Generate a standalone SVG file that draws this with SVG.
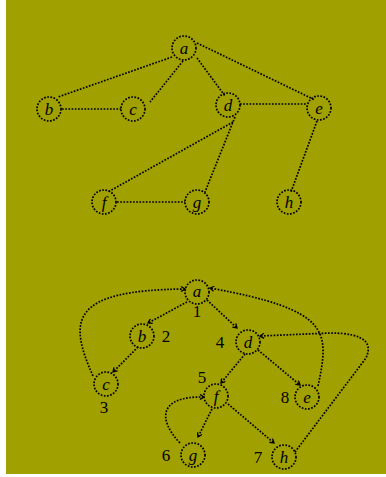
<svg xmlns="http://www.w3.org/2000/svg" width="386" height="477" viewBox="0 0 386 477">
<style>
.n{fill:none;stroke:#000;stroke-width:1.7;stroke-dasharray:1.7 1.5}
.e{fill:none;stroke:#000;stroke-width:1.7;stroke-dasharray:1.7 1.5}
.l{font-family:"Liberation Serif",serif;font-style:italic;font-size:17px;fill:#000;text-anchor:middle}
.k{font-family:"Liberation Serif",serif;font-size:17px;fill:#000;text-anchor:middle}
</style>
<defs>
<marker id="ar" viewBox="0 0 6 6" refX="5" refY="3" markerWidth="6" markerHeight="6" markerUnits="userSpaceOnUse" orient="auto">
<path d="M1,0.5 L5,3 L1,5.5" fill="none" stroke="#000" stroke-width="1.3"/>
</marker>
</defs>
<rect x="0" y="0" width="386" height="477" fill="#fff"/>
<rect x="6" y="0" width="380" height="474" fill="#a0a000"/>
<g id="connectors">
<path class="e" d="M172 57 L58 97"/>
<path class="e" d="M183 61 L150 102"/>
<path class="e" d="M197 58 L225 96"/>
<path class="e" d="M197 43 L315 100"/>
<path class="e" d="M62 109 L121 109"/>
<path class="e" d="M240 104 L307 104"/>
<path class="e" d="M233 122 L108 192"/>
<path class="e" d="M235 117 L205 192"/>
<path class="e" d="M317 121 L291 192"/>
<path class="e" d="M117 202 L185 202"/>
<path class="e" d="M187 302 L148 323" marker-end="url(#ar)"/>
<path class="e" d="M207 300 L237 328" marker-end="url(#ar)"/>
<path class="e" d="M138 347 L113 372" marker-end="url(#ar)"/>
<path class="e" d="M245 354 L221 383" marker-end="url(#ar)"/>
<path class="e" d="M258 350 L300 385" marker-end="url(#ar)"/>
<path class="e" d="M212 409 L198 437" marker-end="url(#ar)"/>
<path class="e" d="M228 404 L274 443" marker-end="url(#ar)"/>
<path class="e" d="M93 376 C68 320 70 290 185 289" marker-end="url(#ar)"/>
<path class="e" d="M318 386 C330 330 330 310 210 288" marker-end="url(#ar)"/>
<path class="e" d="M295 452 L366 358 C372 345 368 333 330 333 L260 336" marker-end="url(#ar)"/>
<path class="e" d="M180 443 C158 420 158 396 204 397" marker-end="url(#ar)"/>
</g>
<g id="top-a"><circle class="n" cx="184" cy="48" r="12"/><text class="l" x="184" y="54">a</text></g>
<g id="top-b"><circle class="n" cx="49" cy="109" r="12"/><text class="l" x="49" y="115">b</text></g>
<g id="top-c"><circle class="n" cx="133" cy="109" r="12"/><text class="l" x="133" y="115">c</text></g>
<g id="top-d"><circle class="n" cx="228" cy="105" r="12"/><text class="l" x="228" y="111">d</text></g>
<g id="top-e"><circle class="n" cx="319" cy="108" r="12"/><text class="l" x="319" y="114">e</text></g>
<g id="top-f"><circle class="n" cx="104" cy="202" r="12"/><text class="l" x="104" y="208">f</text></g>
<g id="top-g"><circle class="n" cx="197" cy="202" r="12"/><text class="l" x="197" y="208">g</text></g>
<g id="top-h"><circle class="n" cx="289" cy="202" r="12"/><text class="l" x="289" y="208">h</text></g>
<g id="bot-a"><circle class="n" cx="197" cy="292" r="12"/><text class="l" x="197" y="297">a</text><text class="k" x="197" y="317">1</text></g>
<g id="bot-b"><circle class="n" cx="142" cy="336" r="12"/><text class="l" x="142" y="342">b</text><text class="k" x="166" y="342">2</text></g>
<g id="bot-c"><circle class="n" cx="106" cy="384" r="12"/><text class="l" x="106" y="390">c</text><text class="k" x="104" y="413">3</text></g>
<g id="bot-d"><circle class="n" cx="248" cy="342" r="12"/><text class="l" x="248" y="348">d</text><text class="k" x="220" y="348">4</text></g>
<g id="bot-f"><circle class="n" cx="216" cy="396" r="12"/><text class="l" x="216" y="402">f</text><text class="k" x="202" y="383">5</text></g>
<g id="bot-e"><circle class="n" cx="307" cy="397" r="12"/><text class="l" x="307" y="403">e</text><text class="k" x="285" y="403">8</text></g>
<g id="bot-g"><circle class="n" cx="193" cy="455" r="12"/><text class="l" x="193" y="461">g</text><text class="k" x="166" y="461">6</text></g>
<g id="bot-h"><circle class="n" cx="284" cy="457" r="12"/><text class="l" x="284" y="463">h</text><text class="k" x="258" y="463">7</text></g>
</svg>
